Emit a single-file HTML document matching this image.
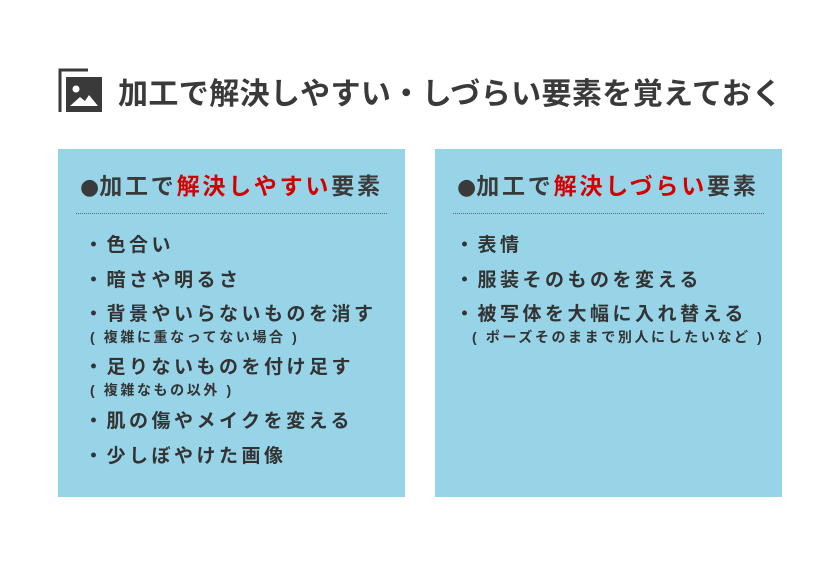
<!DOCTYPE html>
<html><head><meta charset="utf-8"><style>
body{margin:0;width:840px;height:567px;background:#fff;position:relative;overflow:hidden;font-family:"Liberation Sans","Noto Sans CJK JP",sans-serif;color:#3a3a3a}
.a{position:absolute;white-space:nowrap;line-height:1}
.p{position:absolute;top:149px;width:347px;height:348px;background:#97d4e8}
.h{font-size:23px;font-weight:bold;letter-spacing:2.8px}
.r{color:#d40000}
.b{font-family:"DejaVu Sans",sans-serif;font-size:22px;letter-spacing:0}
.i{font-size:19px;letter-spacing:3.5px;font-weight:bold;color:#333}
.s{font-size:14px;letter-spacing:2.6px;font-weight:bold;color:#333}
.d{position:absolute;top:213px;width:311px;border-top:1.5px dotted #666}
</style></head><body>
<svg class="a" style="left:58px;top:68px" width="46" height="46">
<path d="M2 44 V2 H30" stroke="#3a3a3a" stroke-width="3" fill="none"/>
<rect x="8" y="9" width="36" height="35" fill="#3a3a3a"/>
<circle cx="18" cy="21" r="3.5" fill="#fff"/>
<path d="M12 38 L22 29 L27 33 L31 27 L40 38 Z" fill="#fff"/>
</svg>
<div class="a" style="left:118px;top:80px;font-size:30px;font-weight:bold;letter-spacing:0.4px">加工で解決しやすい・しづらい要素を覚えておく</div>

<div class="p" style="left:58px"></div>
<div class="p" style="left:435px"></div>

<div class="a h" style="left:80px;top:175px"><span class="b">●</span>加工で<span class="r">解決しやすい</span>要素</div>
<div class="d" style="left:76px"></div>
<div class="a i" style="left:84px;top:236px">・色合い</div>
<div class="a i" style="left:84px;top:271px">・暗さや明るさ</div>
<div class="a i" style="left:84px;top:305px">・背景やいらないものを消す</div>
<div class="a s" style="left:90px;top:330px">( 複雑に重なってない場合 )</div>
<div class="a i" style="left:84px;top:358px">・足りないものを付け足す</div>
<div class="a s" style="left:90px;top:383px">( 複雑なもの以外 )</div>
<div class="a i" style="left:84px;top:412px">・肌の傷やメイクを変える</div>
<div class="a i" style="left:84px;top:447px">・少しぼやけた画像</div>

<div class="a h" style="left:457px;top:175px"><span class="b">●</span>加工で<span class="r">解決しづらい</span>要素</div>
<div class="d" style="left:453px"></div>
<div class="a i" style="left:455px;top:236px">・表情</div>
<div class="a i" style="left:455px;top:271px">・服装そのものを変える</div>
<div class="a i" style="left:455px;top:305px">・被写体を大幅に入れ替える</div>
<div class="a s" style="left:472px;top:330px">( ポーズそのままで別人にしたいなど )</div>
</body></html>
